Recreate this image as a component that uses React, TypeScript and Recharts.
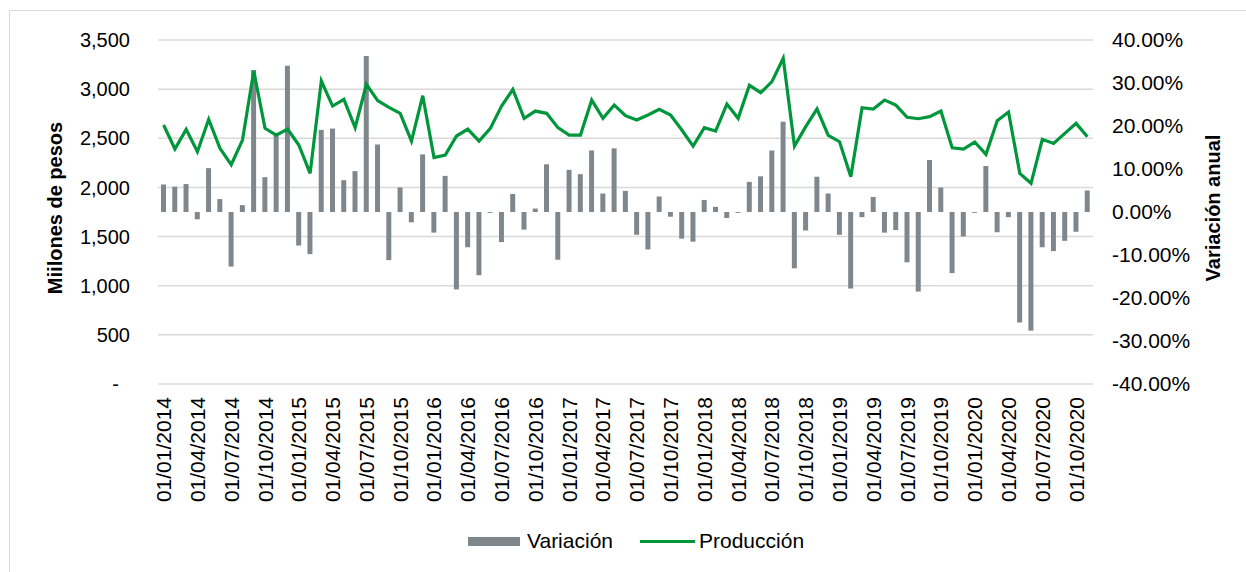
import React from 'react';
import { ComposedChart, Bar, Line, XAxis, YAxis, CartesianGrid } from 'recharts';

const fechas = [
  '01/01/2014', '01/02/2014', '01/03/2014', '01/04/2014', '01/05/2014', '01/06/2014', '01/07/2014', '01/08/2014', '01/09/2014', '01/10/2014', '01/11/2014', '01/12/2014',
  '01/01/2015', '01/02/2015', '01/03/2015', '01/04/2015', '01/05/2015', '01/06/2015', '01/07/2015', '01/08/2015', '01/09/2015', '01/10/2015', '01/11/2015', '01/12/2015',
  '01/01/2016', '01/02/2016', '01/03/2016', '01/04/2016', '01/05/2016', '01/06/2016', '01/07/2016', '01/08/2016', '01/09/2016', '01/10/2016', '01/11/2016', '01/12/2016',
  '01/01/2017', '01/02/2017', '01/03/2017', '01/04/2017', '01/05/2017', '01/06/2017', '01/07/2017', '01/08/2017', '01/09/2017', '01/10/2017', '01/11/2017', '01/12/2017',
  '01/01/2018', '01/02/2018', '01/03/2018', '01/04/2018', '01/05/2018', '01/06/2018', '01/07/2018', '01/08/2018', '01/09/2018', '01/10/2018', '01/11/2018', '01/12/2018',
  '01/01/2019', '01/02/2019', '01/03/2019', '01/04/2019', '01/05/2019', '01/06/2019', '01/07/2019', '01/08/2019', '01/09/2019', '01/10/2019', '01/11/2019', '01/12/2019',
  '01/01/2020', '01/02/2020', '01/03/2020', '01/04/2020', '01/05/2020', '01/06/2020', '01/07/2020', '01/08/2020', '01/09/2020', '01/10/2020', '01/11/2020',
];

// Millones de pesos
const produccion = [
  2635, 2391, 2591, 2364, 2693, 2398, 2231, 2482, 3185, 2601, 2533, 2594,
  2432, 2143, 3083, 2828, 2896, 2608, 3049, 2883, 2815, 2754, 2472, 2933,
  2303, 2330, 2523, 2594, 2472, 2601, 2828, 2998, 2703, 2777, 2754, 2608,
  2533, 2533, 2889, 2703, 2838, 2730, 2686, 2737, 2795, 2737, 2584, 2421,
  2608, 2574, 2848, 2703, 3039, 2964, 3076, 3313, 2421, 2618, 2798, 2530,
  2465, 2109, 2811, 2798, 2889, 2838, 2713, 2699, 2720, 2777, 2404, 2391,
  2462, 2337, 2679, 2767, 2143, 2042, 2489, 2448, 2550, 2652, 2516,
];

// Variación anual (%)
const variacion = [
  6.4, 5.9, 6.5, -1.7, 10.2, 3.0, -12.7, 1.6, 33.0, 8.1, 17.9, 34.0,
  -7.8, -9.8, 19.1, 19.4, 7.4, 9.5, 36.3, 15.7, -11.2, 5.7, -2.4, 13.4,
  -4.8, 8.4, -18.0, -8.2, -14.7, -0.2, -7.0, 4.2, -4.1, 0.8, 11.1, -11.1,
  9.8, 8.8, 14.3, 4.3, 14.8, 4.9, -5.3, -8.7, 3.6, -1.1, -6.2, -6.9,
  2.8, 1.2, -1.4, -0.2, 7.0, 8.3, 14.3, 21.0, -13.1, -4.3, 8.2, 4.3,
  -5.3, -17.8, -1.2, 3.5, -4.8, -4.2, -11.7, -18.5, 12.1, 5.7, -14.2, -5.7,
  -0.2, 10.7, -4.7, -1.2, -25.7, -27.6, -8.2, -9.1, -6.7, -4.6, 5.0,
];

const leftTicks = [0, 500, 1000, 1500, 2000, 2500, 3000, 3500];
const rightTicks = [-40, -30, -20, -10, 0, 10, 20, 30, 40];

const data = fechas.map((f, i) => ({ fecha: f, produccion: produccion[i], variacion: variacion[i] }));

const FONT = '"Liberation Sans", Arial, sans-serif';
const GREEN = '#00963C';
const GREY = '#7F878D';

const XTick = (props: any) => {
  const { x, y, payload } = props;
  return (
    <text
      x={x}
      y={y}
      transform={`rotate(-90, ${x}, ${y})`}
      textAnchor="end"
      dominantBaseline="central"
      fontSize={21}
      fontFamily={FONT}
      fill="#000"
    >
      {payload.value}
    </text>
  );
};

const AxisTitle = (props: any) => {
  const { viewBox, text, offsetX } = props;
  if (!viewBox) return null;
  const cx = viewBox.x + offsetX;
  const cy = viewBox.y + viewBox.height / 2 - 4;
  return (
    <text
      x={cx}
      y={cy}
      transform={`rotate(-90, ${cx}, ${cy})`}
      textAnchor="middle"
      dominantBaseline="central"
      fontSize={20}
      fontWeight="bold"
      fontFamily={FONT}
      fill="#000"
    >
      {text}
    </text>
  );
};

export default function App() {
  return (
    <div style={{ position: 'relative', width: 1246, height: 572, overflow: 'hidden', background: '#fff', fontFamily: FONT }}>
      <style>{'body{margin:0;}'}</style>
      <div
        style={{
          position: 'absolute',
          left: 9,
          top: 10,
          width: 1300,
          height: 700,
          border: '1.5px solid #D9D9D9',
          boxSizing: 'border-box',
        }}
      />
      <div style={{ position: 'absolute', left: 0, top: 0 }}>
        <ComposedChart
          width={1246}
          height={572}
          data={data}
          margin={{ top: 40, right: 10, bottom: 58, left: 10 }}
        >
          <CartesianGrid yAxisId="left" vertical={false} stroke="#D9D9D9" strokeWidth={1.5} />
          <XAxis
            dataKey="fecha"
            interval={2}
            height={130}
            tickSize={0}
            tickMargin={13}
            axisLine={false}
            tickLine={false}
            tick={<XTick />}
          />
          <YAxis
            yAxisId="left"
            orientation="left"
            width={148}
            domain={[0, 3500]}
            ticks={leftTicks}
            interval={0}
            axisLine={false}
            tickLine={false}
            tickSize={0}
            tickMargin={28}
            tick={{ fill: '#000', fontSize: 20, fontFamily: FONT }}
            tickFormatter={(v: number) => (v === 0 ? '-\u00a0\u00a0' : v.toLocaleString('en-US'))}
            label={<AxisTitle text="Miilones de pesos" offsetX={45} />}
          />
          <YAxis
            yAxisId="right"
            orientation="right"
            width={143}
            domain={[-40, 40]}
            ticks={rightTicks}
            interval={0}
            axisLine={false}
            tickLine={false}
            tickSize={0}
            tickMargin={19}
            tick={{ fill: '#000', fontSize: 21, fontFamily: FONT, textAnchor: 'start' }}
            tickFormatter={(v: number) => `${v.toFixed(2)}%`}
            label={<AxisTitle text="Variación anual" offsetX={120} />}
          />
          <Bar yAxisId="right" dataKey="variacion" fill={GREY} barSize={5} isAnimationActive={false} />
          <Line
            yAxisId="left"
            type="linear"
            dataKey="produccion"
            stroke={GREEN}
            strokeWidth={3.2}
            dot={false}
            activeDot={false}
            isAnimationActive={false}
          />
        </ComposedChart>
      </div>
      <div
        style={{
          position: 'absolute',
          left: 468,
          top: 529,
          height: 24,
          display: 'flex',
          alignItems: 'center',
          fontSize: 21,
          color: '#000',
          whiteSpace: 'nowrap',
        }}
      >
        <span style={{ display: 'inline-block', width: 52, height: 9, background: GREY }} />
        <span style={{ marginLeft: 7 }}>Variación</span>
        <span style={{ display: 'inline-block', width: 55, height: 3, background: GREEN, marginLeft: 27 }} />
        <span style={{ marginLeft: 4 }}>Producción</span>
      </div>
    </div>
  );
}
